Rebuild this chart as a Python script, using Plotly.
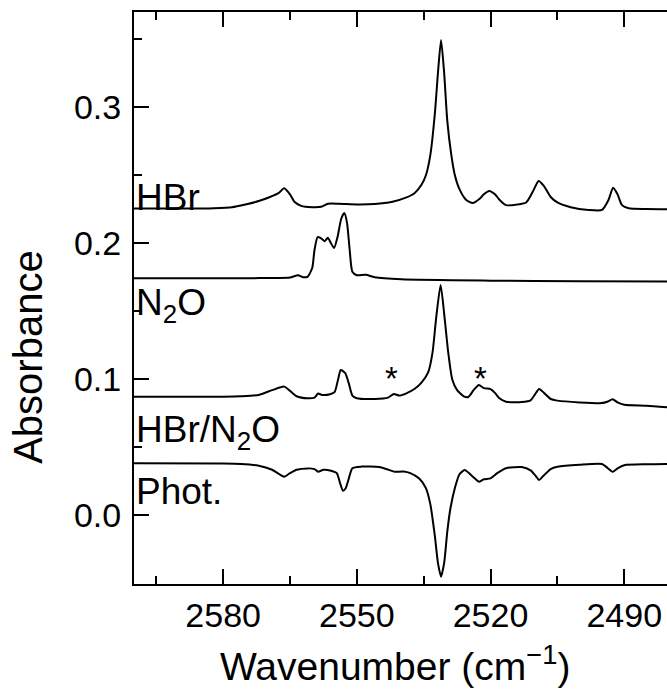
import plotly.graph_objects as go

# ---------------- data ----------------
hbr_wn = [2600, 2590, 2582, 2578, 2575, 2572, 2569.5, 2567.5, 2566.3, 2565, 2564, 2562.5,
          2560, 2558, 2556.5, 2554, 2550, 2546, 2542, 2539, 2537, 2535.5, 2534.5, 2533.5,
          2532.5, 2531.8, 2531.1, 2530.4, 2529.7, 2528.8, 2528, 2527, 2525.5, 2524,
          2522.5, 2521.5, 2520.3, 2519, 2518, 2516.5, 2514, 2512, 2510.5, 2509.2, 2508,
          2506.5, 2505, 2502, 2498, 2495, 2493.5, 2492.5, 2491.5, 2490.5, 2489, 2485, 2480.4]
hbr_abs = [0.2255, 0.2255, 0.2258, 0.2265, 0.2285, 0.231, 0.234, 0.237, 0.2405, 0.236, 0.2305, 0.2275,
           0.2265, 0.2268, 0.229, 0.229, 0.2285, 0.2288, 0.2305, 0.2335, 0.237, 0.243, 0.25, 0.265,
           0.295, 0.325, 0.3495, 0.325, 0.29, 0.265, 0.25, 0.24, 0.232, 0.2295,
           0.2325, 0.236, 0.2385, 0.236, 0.232, 0.228, 0.2285, 0.23, 0.238, 0.2458, 0.242,
           0.234, 0.23, 0.2265, 0.2245, 0.2245, 0.232, 0.2408, 0.236, 0.228, 0.2257, 0.2252, 0.225]

n2o_wn = [2600, 2575, 2568, 2565, 2563.2, 2562, 2561, 2560, 2559.5, 2558.8, 2558, 2557.2,
          2556.5, 2555.8, 2555.1, 2554.3, 2553.5, 2552.8, 2552.2, 2551.6, 2551, 2550, 2548,
          2546, 2540, 2520, 2500, 2480.4]
n2o_abs = [0.1743, 0.1743, 0.1745, 0.1748, 0.1765, 0.175, 0.1755, 0.182, 0.195, 0.2045, 0.2035, 0.2015,
           0.204, 0.2, 0.1965, 0.205, 0.218, 0.2222, 0.215, 0.195, 0.179, 0.1765, 0.1768,
           0.175, 0.1735, 0.1725, 0.172, 0.1718]

mix_wn = [2600, 2580, 2576, 2572, 2569, 2566.3, 2565, 2563.5, 2561, 2559.5, 2558.7, 2557.8,
          2556, 2555, 2554.2, 2553.6, 2552.6, 2551.8, 2551, 2550, 2546, 2543, 2541.7, 2540.5,
          2539, 2537, 2535.5, 2534, 2533, 2532.2, 2531.2, 2530.3, 2529.5, 2528.6, 2527.5,
          2526, 2525, 2523.8, 2522.6, 2521.5, 2520, 2519, 2518, 2516.5, 2513, 2511, 2510,
          2509.1, 2508, 2506.5, 2505, 2500, 2495, 2493.8, 2492.6, 2491.5, 2490, 2485, 2480.4]
mix_abs = [0.0872, 0.0872, 0.0875, 0.0885, 0.092, 0.0946, 0.0915, 0.0875, 0.086, 0.0865, 0.0895, 0.0885,
           0.089, 0.0905, 0.1, 0.1068, 0.1045, 0.097, 0.088, 0.086, 0.0855, 0.0865, 0.0892, 0.088,
           0.0895, 0.093, 0.0975, 0.105, 0.12, 0.145, 0.1693, 0.145, 0.12, 0.1, 0.092,
           0.0875, 0.087, 0.092, 0.0958, 0.0935, 0.0928, 0.09, 0.086, 0.0835, 0.0833, 0.0845, 0.089,
           0.0929, 0.09, 0.0855, 0.0843, 0.083, 0.0825, 0.0835, 0.0853, 0.083, 0.0812, 0.0805, 0.0794]

phot_wn = [2600, 2580, 2576, 2572, 2569, 2566.3, 2565, 2563.5, 2561, 2559.5, 2558.7, 2557.5,
           2556, 2554.5, 2553.8, 2553.1, 2552.5, 2551.8, 2551, 2549, 2545, 2542, 2541.5, 2539.5,
           2538, 2536, 2534.5, 2533.5, 2532.5, 2531.8, 2531.1, 2530.4, 2529.7, 2529, 2528,
           2527, 2525.8, 2524.5, 2523.5, 2522.6, 2521.5, 2520, 2518.5, 2516.5, 2513, 2511,
           2510, 2509.1, 2508, 2506.5, 2505, 2500, 2495, 2493.8, 2492.6, 2491.5, 2490, 2485, 2480.4]
phot_abs = [0.0382, 0.038, 0.0377, 0.0365, 0.0335, 0.0284, 0.031, 0.0335, 0.0345, 0.034, 0.032, 0.0335,
            0.033, 0.031, 0.024, 0.0181, 0.0199, 0.027, 0.0346, 0.0358, 0.0355, 0.0325, 0.032, 0.0322,
            0.031, 0.027, 0.02, 0.008, -0.015, -0.035, -0.0451, -0.035, -0.012, 0.005, 0.02,
            0.03, 0.0333, 0.03, 0.027, 0.0247, 0.0265, 0.0272, 0.031, 0.0346, 0.0355, 0.033,
            0.0295, 0.026, 0.0295, 0.034, 0.0357, 0.0372, 0.0377, 0.035, 0.032, 0.0345, 0.0368, 0.0375, 0.0377]

trace_labels = ["HBr", "N<sub>2</sub>O", "HBr/N<sub>2</sub>O", "Phot."]
label_y = [0.2335, 0.1545, 0.0615, 0.0176]
star_wn = [2542.3, 2522.3]
star_y = [0.1005, 0.1005]

x_range = [2600, 2480.4]
y_range = [-0.0505, 0.3700]
x_ticks = [2580, 2550, 2520, 2490]
y_ticks = [0.0, 0.1, 0.2, 0.3]

FONT = "Liberation Sans, Arial, Helvetica, sans-serif"

fig = go.Figure()
for wn, ab in [(hbr_wn, hbr_abs), (n2o_wn, n2o_abs), (mix_wn, mix_abs), (phot_wn, phot_abs)]:
    fig.add_trace(go.Scatter(x=wn, y=ab, mode="lines",
                             line=dict(color="black", width=2, shape="spline", smoothing=0.6),
                             showlegend=False, hoverinfo="skip"))

for txt, yv in zip(trace_labels, label_y):
    fig.add_annotation(x=x_range[0], y=yv, xref="x", yref="y", text=txt, showarrow=False,
                       xanchor="left", yanchor="middle", xshift=0,
                       font=dict(family=FONT, size=37, color="black"))
for xs, ys in zip(star_wn, star_y):
    fig.add_annotation(x=xs, y=ys, xref="x", yref="y", text="*", showarrow=False,
                       xanchor="center", yanchor="middle",
                       font=dict(family=FONT, size=33, color="black"))

# axis titles
fig.add_annotation(x=-0.199, y=0.397, xref="paper", yref="paper", text="Absorbance",
                   textangle=-90, showarrow=False, xanchor="center", yanchor="middle",
                   font=dict(family=FONT, size=40, color="black"))
fig.add_annotation(x=0.49, y=-0.139, xref="paper", yref="paper",
                   text="Wavenumber (cm<sup>\u22121</sup>)", showarrow=False,
                   xanchor="center", yanchor="middle",
                   font=dict(family=FONT, size=39, color="black"))

fig.update_layout(
    width=667, height=690,
    margin=dict(l=134, r=0, t=12, b=106),
    paper_bgcolor="white", plot_bgcolor="white",
    font=dict(family=FONT, size=34, color="black"),
    xaxis=dict(range=x_range, tickmode="array", tickvals=x_ticks,
               ticks="inside", ticklen=15, tickwidth=2, tickcolor="black",
               showline=True, linewidth=2, linecolor="black", mirror="ticks",
               showgrid=False, zeroline=False, ticklabelstandoff=0,
               minor=dict(tickmode="array", tickvals=[2595, 2565, 2535, 2505],
                          ticks="inside", ticklen=8, tickwidth=2, tickcolor="black",
                          showgrid=False),
               tickfont=dict(family=FONT, size=34, color="black")),
    yaxis=dict(range=y_range, tickmode="array", tickvals=y_ticks, tickformat=".1f",
               ticks="inside", ticklen=15, tickwidth=2, tickcolor="black",
               showline=True, linewidth=2, linecolor="black", mirror=False,
               showgrid=False, zeroline=False, ticklabelstandoff=4,
               minor=dict(tickmode="array", tickvals=[-0.05, 0.05, 0.15, 0.25, 0.35],
                          ticks="inside", ticklen=8, tickwidth=2, tickcolor="black",
                          showgrid=False),
               tickfont=dict(family=FONT, size=34, color="black")),
    yaxis2=dict(range=y_range, overlaying="y", side="right", tickmode="array",
                tickvals=y_ticks, showticklabels=False,
                ticks="inside", ticklen=15, tickwidth=2, tickcolor="black",
                showline=False, showgrid=False, zeroline=False,
                minor=dict(tickmode="array", tickvals=[-0.05, 0.05, 0.15, 0.25, 0.35],
                           ticks="inside", ticklen=8, tickwidth=2, tickcolor="black",
                           showgrid=False)),
)

fig.write_html("out.html")
